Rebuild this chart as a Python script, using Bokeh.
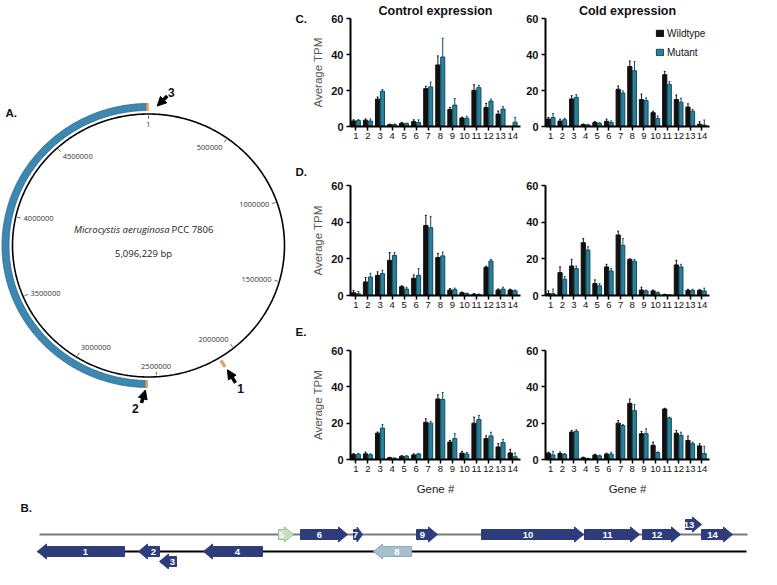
import numpy as np
from bokeh.plotting import figure
from bokeh.models import Range1d, FixedTicker, Legend, LegendItem, Arrow, NormalHead
from bokeh.layouts import row, column
from bokeh.embed import file_html
from bokeh.resources import INLINE
from bokeh.core.properties import value

# ---------------- data: expression (Average TPM) ----------------
genes = list(range(1, 15))
y_ticks = [0, 20, 40, 60]

ctrl_C_wt = [3.1, 3.5, 15.2, 1.0, 1.8, 2.7, 21.0, 34.2, 9.5, 4.7, 20.1, 10.6, 6.9, 0.0]
ctrl_C_wt_err = [0.6, 0.7, 1.2, 0.3, 0.4, 1.0, 1.3, 5.0, 1.0, 0.5, 3.1, 2.2, 1.7, 0.0]
ctrl_C_mut = [3.3, 3.0, 19.6, 1.1, 1.6, 2.2, 22.0, 38.6, 11.9, 4.6, 21.6, 14.1, 9.7, 2.4]
ctrl_C_mut_err = [0.5, 1.2, 0.9, 0.3, 0.3, 1.5, 2.7, 10.4, 3.6, 1.1, 1.2, 1.1, 1.3, 2.7]
cold_C_wt = [4.1, 3.0, 15.3, 1.1, 2.3, 2.9, 20.7, 33.3, 15.0, 7.7, 28.8, 15.0, 10.8, 1.3]
cold_C_wt_err = [0.9, 1.1, 1.8, 0.3, 0.4, 1.2, 1.8, 3.1, 3.0, 0.8, 1.8, 2.5, 1.8, 1.4]
cold_C_mut = [5.0, 3.8, 16.2, 0.9, 1.8, 2.2, 18.6, 31.0, 14.4, 4.5, 23.4, 13.5, 8.5, 0.8]
cold_C_mut_err = [2.2, 0.8, 1.5, 0.3, 0.3, 0.9, 1.2, 5.0, 1.5, 1.4, 1.5, 2.2, 1.0, 2.8]

ctrl_D_wt = [1.5, 7.4, 11.0, 19.2, 4.8, 9.4, 38.2, 20.7, 3.0, 1.5, 0.7, 15.4, 3.0, 3.0]
ctrl_D_wt_err = [1.2, 2.4, 1.9, 4.2, 0.5, 1.8, 5.5, 2.3, 0.8, 0.4, 0.3, 0.6, 0.6, 0.5]
ctrl_D_mut = [1.0, 10.1, 12.0, 21.9, 3.5, 11.0, 37.0, 21.6, 3.2, 1.0, 0.5, 18.8, 3.5, 2.5]
ctrl_D_mut_err = [1.2, 2.0, 1.8, 1.5, 1.0, 3.7, 6.0, 2.1, 0.8, 0.3, 0.3, 0.9, 1.0, 0.5]
cold_D_wt = [1.0, 12.5, 16.1, 28.8, 6.5, 15.6, 33.0, 19.7, 3.0, 2.5, 0.5, 16.7, 2.8, 2.8]
cold_D_wt_err = [1.5, 3.1, 3.6, 2.2, 2.0, 1.4, 2.1, 0.3, 1.5, 0.5, 0.2, 2.5, 0.6, 0.5]
cold_D_mut = [1.0, 8.9, 14.7, 24.8, 5.3, 13.4, 27.4, 18.7, 2.5, 1.5, 0.3, 15.6, 2.8, 2.5]
cold_D_mut_err = [2.5, 1.4, 1.4, 1.8, 1.2, 1.3, 3.6, 1.0, 0.5, 0.4, 0.2, 1.4, 0.6, 1.5]

ctrl_E_wt = [2.7, 3.1, 14.5, 1.0, 1.8, 2.5, 20.5, 33.3, 9.6, 3.5, 20.0, 11.5, 6.9, 3.6]
ctrl_E_wt_err = [0.6, 1.0, 0.6, 0.2, 0.3, 0.6, 1.9, 2.3, 0.9, 1.0, 3.3, 1.5, 1.8, 2.0]
ctrl_E_mut = [2.9, 2.6, 17.3, 0.7, 1.8, 3.0, 20.0, 33.1, 11.5, 3.0, 22.0, 13.0, 9.3, 1.5]
ctrl_E_mut_err = [0.5, 0.5, 2.0, 0.2, 0.3, 0.4, 1.0, 3.8, 2.7, 0.8, 2.2, 2.0, 1.8, 2.1]
cold_E_wt = [3.5, 3.3, 15.1, 1.0, 2.5, 3.0, 20.0, 30.9, 14.2, 7.8, 27.8, 14.5, 10.5, 7.5]
cold_E_wt_err = [0.5, 0.8, 0.9, 0.3, 0.4, 0.5, 1.5, 2.4, 1.3, 1.8, 0.4, 1.5, 2.4, 1.2]
cold_E_mut = [2.5, 2.8, 15.5, 0.5, 2.0, 3.0, 18.7, 26.9, 14.2, 3.8, 22.9, 13.3, 8.7, 3.3]
cold_E_mut_err = [2.0, 0.5, 0.9, 0.2, 0.4, 1.0, 0.5, 3.3, 2.7, 0.4, 0.4, 1.7, 0.9, 4.0]

# ---------------- data: genome map ----------------
genome_size = 5096229
genome_ticks = [1, 500000, 1000000, 1500000, 2000000, 2500000, 3000000, 3500000, 4000000, 4500000]
genome_tick_labels = [str(t) for t in genome_ticks]
island_start = 2566000
island_end = 5083000
island_cap = 12000
site1_start = 2097000
site1_end = 2110000
arrow_names = ["1", "2", "3"]
arrow_targets = [2103500, 2560000, 5089000]

# ---------------- data: gene cluster (kb) ----------------
cluster_len = 35.5
gene_start = [0.0, 5.05, 6.1, 8.3, 12.05, 13.15, 15.8, 16.8, 18.95, 22.2, 27.35, 30.25, 32.4, 33.2]
gene_end = [4.35, 6.1, 6.95, 11.25, 12.8, 15.5, 16.25, 18.7, 20.0, 27.3, 30.1, 32.15, 33.2, 34.75]
gene_strand = [-1, -1, -1, -1, 1, 1, 1, -1, 1, 1, 1, 1, 1, 1]
gene_shift = [0, 0, 1, 0, 0, 0, 0, 0, 0, 0, 0, 0, -1, 0]
gene_kind = ["c", "c", "c", "c", "g", "c", "c", "b", "c", "c", "c", "c", "c", "c"]

# ---------------- style ----------------
WT = "#111111"
MUT_FILL = "#2c7f98"
MUT_LINE = "#0e4f63"
NAVY = "#2e3c7c"
KIND_COLOR = {"c": NAVY, "g": "#c4e2bf", "b": "#a6bfcc"}
KIND_LINE = {"c": NAVY, "g": "#93c18f", "b": "#8eaaba"}
FONT = "Liberation Sans"
MAPFONT = "Open Sans"


def bar_fig(wt, wte, mut, mute, width, height, bl, br, bt, bb,
            title=None, ylabel=False, xlabel=False, legend=False):
    p = figure(width=width, height=height, x_range=Range1d(0.55, 14.65),
               y_range=Range1d(0, 60), output_backend="svg", toolbar_location=None,
               title=title, min_border_left=bl, min_border_right=br,
               min_border_top=bt, min_border_bottom=bb)
    p.grid.visible = False
    p.outline_line_color = None
    x = np.array(genes, dtype=float)
    wt = np.array(wt); wte = np.array(wte)
    mut = np.array(mut); mute = np.array(mute)
    xw = x - 0.2
    xm = x + 0.2
    r1 = p.vbar(x=xw, top=wt, width=0.36, fill_color=WT, line_color=WT)
    r2 = p.vbar(x=xm, top=mut, width=0.34, fill_color=MUT_FILL, line_color=MUT_LINE,
                line_width=1)
    p.segment(x0=xw, y0=wt, x1=xw, y1=wt + wte, line_color=WT, line_width=1)
    p.segment(x0=xw - 0.08, y0=wt + wte, x1=xw + 0.08, y1=wt + wte, line_color=WT, line_width=1)
    p.segment(x0=xm, y0=mut, x1=xm, y1=mut + mute, line_color=MUT_LINE, line_width=1)
    p.segment(x0=xm - 0.08, y0=mut + mute, x1=xm + 0.08, y1=mut + mute,
              line_color=MUT_LINE, line_width=1)

    for ax in (p.xaxis, p.yaxis):
        ax.axis_line_width = 2
        ax.axis_line_color = "black"
        ax.major_tick_line_width = 1.5
        ax.major_tick_line_color = "black"
        ax.major_tick_out = 4
        ax.major_tick_in = 0
        ax.minor_tick_out = 0
        ax.minor_tick_in = 0
        ax.major_label_text_font = FONT
        ax.major_label_text_color = "#111111"
    p.xaxis.ticker = FixedTicker(ticks=genes)
    p.xaxis.major_label_text_font_size = "9.5px"
    p.xaxis.major_label_standoff = 2
    p.yaxis.ticker = FixedTicker(ticks=y_ticks)
    p.yaxis.major_label_text_font_size = "11px"
    p.yaxis.major_label_text_font_style = "bold"
    p.yaxis.major_label_standoff = 3
    if ylabel:
        p.yaxis.axis_label = "Average TPM"
        p.yaxis.axis_label_text_font = FONT
        p.yaxis.axis_label_text_font_size = "11.5px"
        p.yaxis.axis_label_text_font_style = "normal"
        p.yaxis.axis_label_text_color = "#555555"
        p.yaxis.axis_label_standoff = 4
    if xlabel:
        p.xaxis.axis_label = "Gene #"
        p.xaxis.axis_label_text_font = FONT
        p.xaxis.axis_label_text_font_size = "11.5px"
        p.xaxis.axis_label_text_font_style = "normal"
        p.xaxis.axis_label_text_color = "#222222"
        p.xaxis.axis_label_standoff = 8
    if title is not None:
        p.title.align = "center"
        p.title.text_font = FONT
        p.title.text_font_size = "12.5px"
        p.title.text_font_style = "bold"
        p.title.text_color = "#111111"
        p.title.standoff = 2
    if legend:
        fw = width - bl - br
        fh = height - bt - bb
        lg = Legend(items=[LegendItem(label="Wildtype", renderers=[r1]),
                           LegendItem(label="Mutant", renderers=[r2])],
                    location=(fw - 54, fh - 41))
        lg.label_text_font = FONT
        lg.label_text_font_size = "10px"
        lg.label_text_color = "#111111"
        lg.glyph_width = 9
        lg.glyph_height = 8
        lg.label_standoff = 3
        lg.label_height = 12
        lg.spacing = 7
        lg.padding = 1
        lg.margin = 0
        lg.border_line_color = None
        lg.background_fill_alpha = 0
        p.add_layout(lg)
    return p


WC, LW, RW = 308, 215, 238
HC, HD, HE, HG = 145, 169, 184, 71
cL = bar_fig(ctrl_C_wt, ctrl_C_wt_err, ctrl_C_mut, ctrl_C_mut_err, LW, HC, 42, 3, 17, 19,
             title="Control expression", ylabel=True)
cR = bar_fig(cold_C_wt, cold_C_wt_err, cold_C_mut, cold_C_mut_err, RW, HC, 22, 52, 17, 19,
             title="Cold expression", legend=True)
dL = bar_fig(ctrl_D_wt, ctrl_D_wt_err, ctrl_D_mut, ctrl_D_mut_err, LW, HD, 42, 3, 40, 19,
             ylabel=True)
dR = bar_fig(cold_D_wt, cold_D_wt_err, cold_D_mut, cold_D_mut_err, RW, HD, 22, 52, 40, 19)
eL = bar_fig(ctrl_E_wt, ctrl_E_wt_err, ctrl_E_mut, ctrl_E_mut_err, LW, HE, 42, 3, 36, 39,
             ylabel=True, xlabel=True)
eR = bar_fig(cold_E_wt, cold_E_wt_err, cold_E_mut, cold_E_mut_err, RW, HE, 22, 52, 36, 39,
             xlabel=True)

# ---------------- circular genome map ----------------
TOPH = HC + HD + HE
pc = figure(width=WC, height=TOPH, x_range=Range1d(0, WC), y_range=Range1d(TOPH, 0),
            output_backend="svg", toolbar_location=None, x_axis_type=None,
            y_axis_type=None, min_border=0, title=None)
pc.outline_line_color = None
CX, CY, RX, RY = 148.0, 245.0, 136.0, 131.5


def pt(pos, dr):
    th = 2 * np.pi * np.asarray(pos, dtype=float) / genome_size
    return CX + (RX + dr) * np.sin(th), CY - (RY + dr) * np.cos(th)


def band(a, b, r0, r1, n=300):
    pos = np.linspace(a, b, n)
    xo, yo = pt(pos, r1)
    xi, yi = pt(pos[::-1], r0)
    return np.concatenate([xo, xi]), np.concatenate([yo, yi])


bx, by = band(island_start, island_end, 3.5, 10.5)
pc.patch(bx, by, fill_color="#3d88b0", line_color="#2b6a8e", line_width=0.8)
for a, b in [(island_start - island_cap, island_start), (island_end, island_end + island_cap),
             (site1_start, site1_end)]:
    ox, oy = band(a, b, 3.5, 10.5, n=10)
    pc.patch(ox, oy, fill_color="#eaa85e", line_color="#b9793b", line_width=0.6)

lx, ly = pt(np.linspace(0, genome_size, 721), 0)
pc.line(lx, ly, line_color="black", line_width=1.6)

t0x, t0y = pt(genome_ticks, -1.5)
t1x, t1y = pt(genome_ticks, -5)
pc.segment(x0=t0x, y0=t0y, x1=t1x, y1=t1y, line_color="#444444", line_width=0.8)
th = 2 * np.pi * np.array(genome_ticks, dtype=float) / genome_size
ax_, ay_ = pt(genome_ticks, -8)
groups = {}
for i in range(len(genome_ticks)):
    s, c = np.sin(th[i]), np.cos(th[i])
    al = "right" if s > 0.2 else ("left" if s < -0.2 else "center")
    bl = "top" if c > 0.5 else ("bottom" if c < -0.5 else "middle")
    groups.setdefault((al, bl), []).append(i)
for (al, bl), idx in groups.items():
    pc.text(x=[ax_[i] for i in idx], y=[ay_[i] for i in idx],
            text=[genome_tick_labels[i] for i in idx], text_align=al, text_baseline=bl,
            text_font=value(MAPFONT), text_font_size="7.5px", text_color="#333333")

pc.text(x=[CX + 21], y=[CY - 16], text=["Microcystis aeruginosa"], text_align="right",
        text_baseline="middle", text_font=value(MAPFONT), text_font_size="9.5px",
        text_font_style="italic", text_color="#222222")
pc.text(x=[CX + 23], y=[CY - 16], text=["PCC 7806"], text_align="left",
        text_baseline="middle", text_font=value(MAPFONT), text_font_size="9.5px",
        text_color="#222222")
pc.text(x=[CX - 5], y=[CY + 8], text=["5,096,229 bp"], text_align="center",
        text_baseline="middle", text_font=value(MAPFONT), text_font_size="9.5px",
        text_color="#222222")

tip_off = [(5, 7), (-1, 7), (10, -2)]
tail_off = [(13, 20), (-5, 20), (20, -12)]
lab_off = [(18, 26), (-11, 26), (24, -16)]
fx, fy = pt(arrow_targets, 6)
for i in range(3):
    pc.add_layout(Arrow(end=NormalHead(size=9, fill_color="black", line_color="black"),
                        x_start=fx[i] + tail_off[i][0], y_start=fy[i] + tail_off[i][1],
                        x_end=fx[i] + tip_off[i][0], y_end=fy[i] + tip_off[i][1],
                        line_width=3.5, line_color="black"))
    pc.text(x=[fx[i] + lab_off[i][0]], y=[fy[i] + lab_off[i][1]], text=[arrow_names[i]],
            text_align="center", text_baseline="middle", text_font=value(FONT),
            text_font_size="12px", text_font_style="bold", text_color="#111111")

pc.text(x=[5, 295, 295, 295], y=[112, 18, 171, 331], text=["A.", "C.", "D.", "E."],
        text_align="left", text_baseline="middle", text_font=value(FONT),
        text_font_size="11.5px", text_font_style="bold", text_color="#111111")

# ---------------- gene cluster ----------------
GW = WC + LW + RW
pg = figure(width=GW, height=HG, x_range=Range1d(-1.85, (GW - 37) / 20.0),
            y_range=Range1d(TOPH + HG, TOPH),
            output_backend="svg", toolbar_location=None, x_axis_type=None,
            y_axis_type=None, min_border=0, title=None)
pg.outline_line_color = None
TOP_Y, BOT_Y = TOPH + 36.0, TOPH + 53.0
pg.line([0.1, cluster_len], [TOP_Y, TOP_Y], line_color="#7a7a7a", line_width=2)
pg.line([0.0, cluster_len - 0.05], [BOT_Y, BOT_Y], line_color="black", line_width=2)
xs_l, ys_l, fc, lc, lx_, ly_ = [], [], [], [], [], []
HEAD = 0.45
for i in range(len(gene_start)):
    s, e = gene_start[i], gene_end[i]
    hl = min(HEAD, 0.6 * (e - s))
    yc = (TOP_Y if gene_strand[i] > 0 else BOT_Y) + gene_shift[i] * 10
    b, h = 5.0, 7.5
    if gene_strand[i] > 0:
        xs = [s, e - hl, e - hl, e, e - hl, e - hl, s]
        cxl = (s + e - hl) / 2
    else:
        xs = [e, s + hl, s + hl, s, s + hl, s + hl, e]
        cxl = (s + hl + e) / 2
    ys = [yc - b, yc - b, yc - h, yc, yc + h, yc + b, yc + b]
    xs_l.append(xs); ys_l.append(ys)
    fc.append(KIND_COLOR[gene_kind[i]]); lc.append(KIND_LINE[gene_kind[i]])
    lx_.append(cxl); ly_.append(yc)
pg.patches(xs=xs_l, ys=ys_l, fill_color=fc, line_color=lc, line_width=1)
pg.text(x=lx_, y=ly_, text=[str(g) for g in genes], text_align="center",
        text_baseline="middle", text_font=value(FONT), text_font_size="9.5px",
        text_font_style="bold", text_color="white")
pg.text(x=[-0.85], y=[TOPH + 9], text=["B."], text_align="left", text_baseline="middle",
        text_font=value(FONT), text_font_size="11.5px", text_font_style="bold",
        text_color="#111111")

layout = column(row(pc, column(cL, dL, eL), column(cR, dR, eR)), pg)
open("out.html", "w").write(file_html(layout, INLINE))
